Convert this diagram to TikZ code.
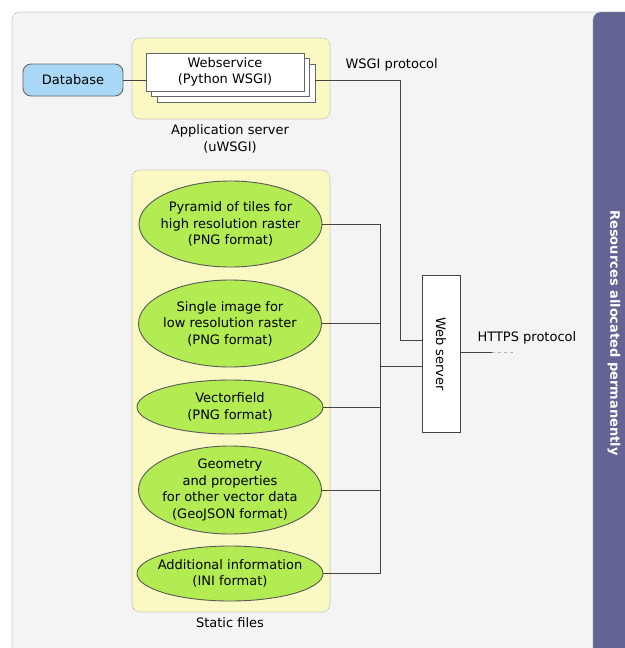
\documentclass[tikz,border=0pt]{standalone}
\usepackage{fontspec}
\setmainfont{DejaVu Sans}
\usetikzlibrary{shapes.geometric}
\usetikzlibrary{positioning}
\definecolor{bggray}{HTML}{F4F4F4}
\definecolor{paleyellow}{HTML}{FAF9C3}
\definecolor{leafgreen}{HTML}{B3EB52}
\definecolor{skyblue}{HTML}{A8D8F6}
\definecolor{bandpurple}{HTML}{646494}
\definecolor{wiregray}{HTML}{444444}
\begin{document}
\begin{tikzpicture}[x=1pt,y=-1pt,font=\fontsize{13}{16.5}\selectfont,
    group box/.style={draw=gray!70,dash pattern=on 1pt off 1pt,line width=0.6pt,rounded corners=8pt},
    file node/.style={ellipse,draw=gray!70!black,line width=0.9pt,fill=leafgreen,inner sep=0pt,minimum width=183,minimum height=86},
    flat node/.style={file node,minimum width=186,minimum height=55},
    file text/.style={label={[align=center]center:#1}},
    sheet node/.style={rectangle,draw=gray!80!black,line width=0.9pt,fill=white,minimum width=158,minimum height=38},
    wire/.style={draw=wiregray,line width=0.8pt}]
  \useasboundingbox (0,0) rectangle (624,648);
  \fill[white] (0,0) rectangle (624,648);
  % background areas
  \path[group box,fill=bggray] (12,12) rectangle (650,670);
  \path[group box,fill=bandpurple] (593,12) rectangle (650,670);
  \node[rotate=-90,text=white,font=\fontsize{13}{16.5}\selectfont\bfseries] (perm) at (614,333) {Resources allocated permanently};
  \path[group box,fill=paleyellow] (132,38) rectangle (330,119);
  \path[group box,fill=paleyellow] (132,170) rectangle (330,612);
  \node (appsrv) at (230,139) [align=center] {Application server\\(uWSGI)};
  \node (static) at (230,623) {Static files};
  % application server
  \node[rectangle,rounded corners=8pt,draw=gray!80!black,line width=0.9pt,fill=skyblue,minimum width=100,minimum height=32] (db) at (73,80) {Database};
  \node[sheet node] (ws3) at (236,83) {};
  \node[sheet node] (ws2) at (230.5,77.5) {};
  \node[sheet node,align=center] (ws1) at (225,72) {Webservice\\(Python WSGI)};
  \node[anchor=west] (wsgi) at (342,65) {WSGI protocol};
  % static files
  \node[file node,file text={Pyramid of tiles for\\high resolution raster\\(PNG format)}] (pyr) at (230.5,224) {};
  \node[file node,minimum height=87,file text={Single image for\\low resolution raster\\(PNG format)}] (single) at (230,323.5) {};
  \node[flat node,minimum height=54,file text={Vectorfield\\(PNG format)}] (vec) at (230,407) {};
  \node[file node,minimum height=88,file text={Geometry\\and properties\\for other vector data\\(GeoJSON format)}] (geo) at (230,490) {};
  \node[flat node,file text={Additional information\\(INI format)}] (info) at (230,573.5) {};
  % web server
  \node[rectangle,rotate=-90,draw=wiregray,line width=0.9pt,fill=white,minimum width=157,minimum height=38] (web) at (441,354) {Web server};
  \node[anchor=west] (https) at (474,338) {HTTPS protocol};
  \coordinate (bus) at (380,366);
  \coordinate (wsgibend) at (400,340);
  \coordinate (httpsend) at (492,352);
  \coordinate (httpsfade) at (516,352);
  \path[wire] (db.east) -- (db.east -| ws1.west);
  \path[wire] (ws3.east |- db.east) -| (wsgibend) -- (wsgibend -| web.south);
  \foreach \f in {pyr,single,vec,geo,info}
    \path[wire] (\f.east) -| (bus);
  \path[wire] (bus) -- (bus -| web.south);
  \path[wire] (httpsend -| web.north) -- (httpsend);
  \path[wire,draw=gray!60,dash pattern=on 3pt off 3pt] (httpsend) -- (httpsfade);
\end{tikzpicture}
\end{document}
